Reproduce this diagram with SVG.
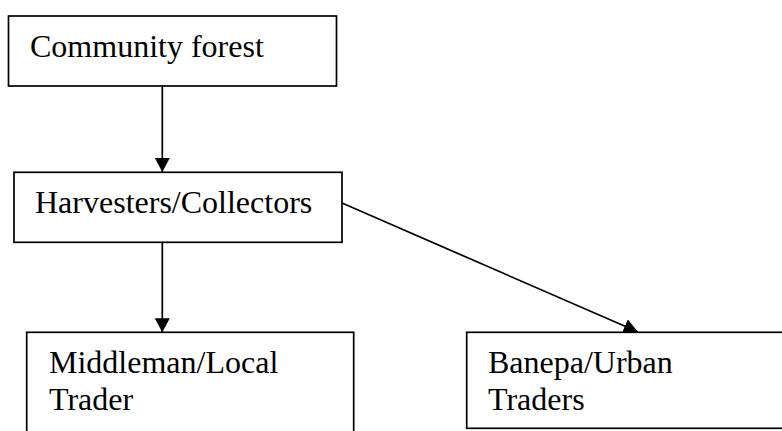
<svg xmlns="http://www.w3.org/2000/svg" width="782" height="431" viewBox="0 0 782 431">
<style>
.box{fill:#fff;stroke:#000;stroke-width:1.7}
.lbl{font-family:"Liberation Serif","Times New Roman",serif;font-size:32px;fill:#000}
.conn{stroke:#000;stroke-width:1.7;fill:none}
</style>
<defs>
<marker id="ah" markerUnits="userSpaceOnUse" markerWidth="14" markerHeight="15" refX="14" refY="7.5" orient="auto" viewBox="0 0 14 15">
<path d="M0,0 L14,7.5 L0,15 z" fill="#000"/>
</marker>
</defs>
<rect width="782" height="431" fill="#fff"/>
<g id="connectors">
<line class="conn" x1="162.3" y1="86" x2="162.3" y2="172" marker-end="url(#ah)"/>
<line class="conn" x1="162.3" y1="242.3" x2="162.3" y2="332.3" marker-end="url(#ah)"/>
<line class="conn" x1="342" y1="203" x2="637.7" y2="331.8" marker-end="url(#ah)"/>
</g>
<g id="community-forest">
<rect class="box" x="8.5" y="16" width="328" height="70"/>
<text class="lbl" x="30" y="57">Community forest</text>
</g>
<g id="harvesters">
<rect class="box" x="14" y="172.3" width="328" height="70"/>
<text class="lbl" x="35" y="213">Harvesters/Collectors</text>
</g>
<g id="middleman">
<rect class="box" x="26.7" y="332.3" width="327" height="110"/>
<text class="lbl" x="49" y="373">Middleman/Local</text>
<text class="lbl" x="49" y="410">Trader</text>
</g>
<g id="banepa">
<rect class="box" x="466.7" y="332.3" width="330" height="96"/>
<text class="lbl" x="488" y="373">Banepa/Urban</text>
<text class="lbl" x="488" y="410">Traders</text>
</g>
</svg>
